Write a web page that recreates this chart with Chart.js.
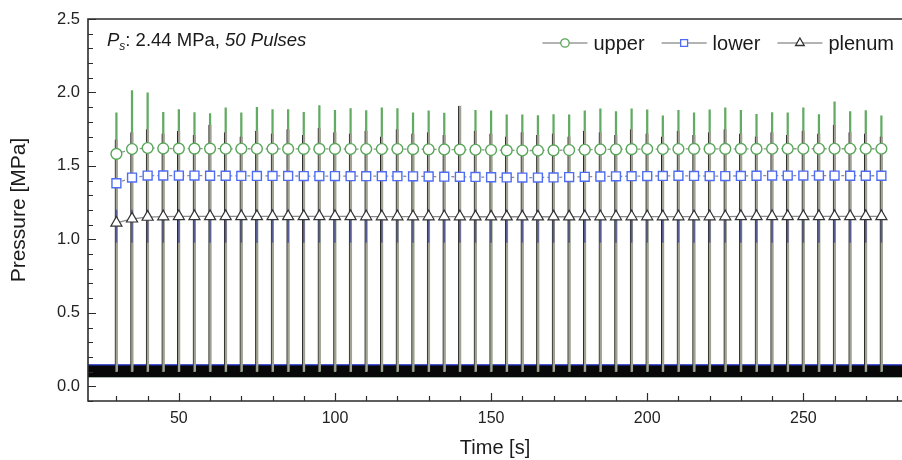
<!DOCTYPE html>
<html><head><meta charset="utf-8">
<script src="https://cdn.jsdelivr.net/npm/chart.js@4.4.1/dist/chart.umd.min.js"></script>
<style>html,body{margin:0;padding:0;background:#fff}</style>
</head><body>
<canvas id="c" width="902" height="460"></canvas>
<script>
// ---------- data ----------
const pulseTimes = [30,35,40,45,50,55,60,65,70,75,80,85,90,95,100,105,110,115,120,125,
  130,135,140,145,150,155,160,165,170,175,180,185,190,195,200,205,210,215,220,225,
  230,235,240,245,250,255,260,265,270,275];
const upperMean = [1.582,1.615,1.622,1.619,1.618,1.618,1.618,1.617,1.617,1.617,
  1.617,1.616,1.616,1.616,1.616,1.615,1.615,1.615,1.615,1.614,
  1.613,1.612,1.611,1.610,1.608,1.606,1.605,1.605,1.606,1.608,
  1.610,1.612,1.613,1.614,1.615,1.615,1.615,1.616,1.616,1.616,
  1.616,1.616,1.617,1.617,1.617,1.617,1.617,1.617,1.617,1.617];
const lowerMean = [1.382,1.421,1.434,1.435,1.434,1.434,1.433,1.433,1.432,1.432,
  1.432,1.432,1.431,1.431,1.431,1.430,1.430,1.430,1.430,1.429,
  1.428,1.427,1.426,1.425,1.423,1.422,1.421,1.421,1.422,1.424,
  1.426,1.428,1.429,1.430,1.431,1.432,1.433,1.432,1.431,1.431,
  1.432,1.433,1.434,1.434,1.434,1.434,1.434,1.433,1.433,1.433];
const plenumMean = [1.112,1.140,1.152,1.155,1.156,1.156,1.156,1.156,1.156,1.156,
  1.156,1.156,1.156,1.156,1.156,1.156,1.155,1.155,1.155,1.155,
  1.155,1.155,1.155,1.154,1.154,1.154,1.154,1.154,1.154,1.154,
  1.155,1.155,1.155,1.155,1.155,1.155,1.155,1.155,1.155,1.155,
  1.156,1.156,1.156,1.156,1.156,1.156,1.156,1.156,1.156,1.156];
const upperPeak = [1.861,2.013,1.997,1.865,1.884,1.863,1.857,1.895,1.861,1.899,
  1.884,1.884,1.865,1.911,1.879,1.890,1.877,1.895,1.890,1.861,
  1.875,1.859,1.880,1.879,1.875,1.848,1.848,1.843,1.850,1.848,
  1.875,1.888,1.870,1.888,1.881,1.841,1.879,1.861,1.881,1.895,
  1.879,1.852,1.863,1.861,1.895,1.850,1.936,1.870,1.877,1.841];
const plenumPeak = [1.68,1.73,1.75,1.72,1.74,1.71,1.78,1.73,1.70,1.74,
  1.72,1.75,1.71,1.76,1.73,1.72,1.74,1.70,1.75,1.72,
  1.73,1.71,1.91,1.74,1.72,1.70,1.73,1.71,1.72,1.70,
  1.74,1.73,1.71,1.75,1.72,1.70,1.74,1.71,1.73,1.75,
  1.72,1.70,1.73,1.71,1.74,1.72,1.78,1.73,1.72,1.70];
const lowerSpikeLow = 0.98, lowerSpikeHigh = 1.20;
const pulseBase = 0.10;
const noiseBand = [0.064, 0.146];
const recordSpan = [0, 300];
const xRange = [20.9, 281.6];
const yRange = [-0.1, 2.5];
const xMajor = [50, 100, 150, 200, 250];
const yMajor = [0.0, 0.5, 1.0, 1.5, 2.0, 2.5];
const seriesNames = ['upper', 'lower', 'plenum'];
const xTitle = 'Time [s]';
const yTitle = 'Pressure [MPa]';
const noteParts = [['P','italic'],['s','sub'],[': 2.44 MPa, ','normal'],['50 Pulses','italic']];

// ---------- helpers ----------
const FONT = "'Liberation Sans', Arial, sans-serif";
const pts = ys => pulseTimes.map((t, i) => ({x: t, y: ys[i]}));
const bars = (lo, hi) => pulseTimes.map((t, i) => ({x: t, y: [Array.isArray(lo) ? lo[i] : lo, Array.isArray(hi) ? hi[i] : hi]}));
const flat = v => recordSpan.map(t => ({x: t, y: v}));
const isMult = (v, s) => Math.abs(v / s - Math.round(v / s)) < 1e-6;

const markerSets = [
  {label: seriesNames[0], type: 'line', data: pts(upperMean), borderColor: '#8c9a8c', borderWidth: 1.3, borderDash: [3, 3],
   pointStyle: 'circle', pointRadius: 5.4, pointBorderColor: '#58a658', pointBackgroundColor: '#fff', pointBorderWidth: 1.4, order: 0},
  {label: seriesNames[1], type: 'line', data: pts(lowerMean), borderColor: '#8c8c9a', borderWidth: 1.3, borderDash: [3, 3],
   pointStyle: 'rect', pointRadius: 6.3, pointBorderColor: '#4f6cf5', pointBackgroundColor: '#fff', pointBorderWidth: 1.4, order: 1},
  {label: seriesNames[2], type: 'line', data: pts(plenumMean), borderColor: '#8a8a8a', borderWidth: 1.3,
   pointStyle: 'triangle', pointRadius: 6.4, pointBorderColor: '#333', pointBackgroundColor: '#fff', pointBorderWidth: 1.2, order: 2}
];

const data = {datasets: [
  ...markerSets,
  {type: 'bar', data: bars(lowerSpikeLow, lowerSpikeHigh), backgroundColor: 'rgba(25,35,150,0.55)', barThickness: 1, grouped: false, order: 3},
  {type: 'bar', data: bars(pulseBase, plenumPeak), backgroundColor: '#a2a293', borderColor: '#262626',
   borderWidth: {left: 1, right: 0, top: 0, bottom: 0}, borderSkipped: false, barThickness: 3, grouped: false, order: 4},
  {type: 'bar', data: bars(pulseBase, upperPeak), backgroundColor: '#62ab62', barThickness: 1.6, grouped: false, order: 5},
  {type: 'line', data: flat(noiseBand[1]), borderColor: '#2535d0', borderWidth: 1.3, pointRadius: 0, fill: '+1', backgroundColor: '#080808', order: 6},
  {type: 'line', data: flat(noiseBand[0]), borderColor: '#1e4e1e', borderWidth: 1, pointRadius: 0, fill: false, order: 7}
]};

// ---------- plugins ----------
const framePlugin = {
  id: 'frame',
  afterDatasetsDraw(chart) {
    const {ctx, chartArea: a, scales: {x, y}} = chart;
    ctx.save();
    ctx.strokeStyle = '#2b2b2b';
    ctx.lineWidth = 1.6;
    ctx.beginPath();
    ctx.moveTo(a.right, a.top); ctx.lineTo(a.left, a.top); ctx.lineTo(a.left, a.bottom); ctx.lineTo(a.right, a.bottom);
    ctx.stroke();
    ctx.lineWidth = 1.2;
    ctx.beginPath();
    x.ticks.forEach(t => {
      const px = Math.round(x.getPixelForValue(t.value)) + 0.5;
      const len = xMajor.some(m => Math.abs(m - t.value) < 1e-6) ? 8 : 5;
      ctx.moveTo(px, a.bottom); ctx.lineTo(px, a.bottom - len);
    });
    y.ticks.forEach(t => {
      const py = Math.round(y.getPixelForValue(t.value)) + 0.5;
      const len = yMajor.some(m => Math.abs(m - t.value) < 1e-6) ? 8 : 5;
      ctx.moveTo(a.left, py); ctx.lineTo(a.left + len, py);
    });
    ctx.stroke();
    ctx.restore();
  },
  afterDraw(chart) {
    const {ctx, chartArea: a} = chart;
    ctx.save();
    // annotation
    ctx.fillStyle = '#1a1a1a';
    ctx.textBaseline = 'alphabetic';
    let tx = a.left + 19, base = a.top + 27;
    noteParts.forEach(([txt, st]) => {
      if (st === 'sub') { ctx.font = 'italic 12px ' + FONT; ctx.fillText(txt, tx, base + 4); }
      else { ctx.font = (st === 'italic' ? 'italic ' : '') + '18.5px ' + FONT; ctx.fillText(txt, tx, base); }
      tx += ctx.measureText(txt).width;
    });
    // legend
    ctx.font = '20px ' + FONT;
    ctx.textBaseline = 'middle';
    const ly = a.top + 24, lineLen = 45, gapText = 6, gapItem = 17;
    const widths = markerSets.map(d => lineLen + gapText + ctx.measureText(d.label).width);
    let lx = a.right - 8 - widths.reduce((s, w) => s + w, 0) - gapItem * (widths.length - 1);
    markerSets.forEach((d, i) => {
      ctx.strokeStyle = '#9a9a9a'; ctx.lineWidth = 1.5; ctx.setLineDash([]);
      ctx.beginPath(); ctx.moveTo(lx, ly); ctx.lineTo(lx + lineLen, ly); ctx.stroke();
      ctx.fillStyle = '#fff'; ctx.strokeStyle = d.pointBorderColor; ctx.lineWidth = 1.3;
      Chart.helpers.drawPoint(ctx, {pointStyle: d.pointStyle, radius: d.pointRadius * 0.78, rotation: 0, borderWidth: 1.3}, lx + lineLen / 2, ly);
      ctx.fillStyle = '#1a1a1a';
      ctx.fillText(d.label, lx + lineLen + gapText, ly + 1);
      lx += widths[i] + gapItem;
    });
    ctx.restore();
  }
};

new Chart(document.getElementById('c'), {
  type: 'scatter',
  data,
  options: {
    responsive: false,
    animation: false,
    events: [],
    layout: {autoPadding: false, padding: {top: 19, right: 0, bottom: 0, left: 0}},
    plugins: {legend: {display: false}, tooltip: {enabled: false}},
    scales: {
      x: {
        type: 'linear', min: xRange[0], max: xRange[1], offset: false,
        grid: {display: false, drawTicks: false}, border: {display: false},
        ticks: {stepSize: 10, includeBounds: false, autoSkip: false, maxRotation: 0, padding: 8,
          color: '#222', font: {family: FONT, size: 16},
          callback: v => xMajor.some(m => Math.abs(m - v) < 1e-6) ? String(v) : ''},
        title: {display: true, text: xTitle, color: '#1a1a1a', font: {family: FONT, size: 20}, padding: {top: 0, bottom: 0}},
        afterFit: s => { s.height = 59; s.paddingLeft = 0; s.paddingRight = 0; }
      },
      y: {
        type: 'linear', min: yRange[0], max: yRange[1],
        grid: {display: false, drawTicks: false}, border: {display: false},
        ticks: {stepSize: 0.1, includeBounds: false, autoSkip: false, padding: 8,
          color: '#222', font: {family: FONT, size: 16.5},
          callback: v => isMult(v, 0.5) ? v.toFixed(1) : ''},
        title: {display: true, text: yTitle, color: '#1a1a1a', font: {family: FONT, size: 21}, padding: {top: 7, bottom: 0}},
        afterFit: s => { s.width = 88; s.paddingTop = 0; s.paddingBottom = 0; }
      }
    }
  },
  plugins: [framePlugin]
});
</script>
</body></html>
